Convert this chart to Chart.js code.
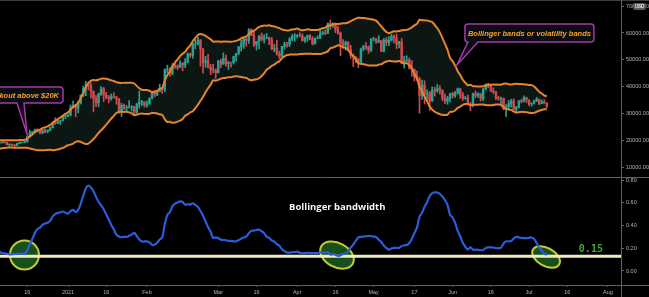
<!DOCTYPE html>
<html><head><meta charset="utf-8">
<script src="https://cdn.jsdelivr.net/npm/chart.js@4.4.1/dist/chart.umd.min.js"></script>
<style>
html,body{margin:0;padding:0;background:#000;overflow:hidden;}
#wrap{position:relative;width:649px;height:297px;background:#000;}
canvas{position:absolute;left:0;}
#top{top:0;}
#bot{top:178px;}
</style></head><body>
<div id="wrap"><canvas id="top" width="649" height="178"></canvas><canvas id="bot" width="649" height="119"></canvas></div>
<script>
// Day index: 0 = 2021-01-01. First candle = 2020-11-15 (day -47), daily BTC/USD candles.
const firstDay = -47;
const closes = [
15960,16730,17660,17800,17820,18680,18710,18420,18360,19160,18720,17150,17140,17720,18180,19700,
18790,19210,19450,18700,19150,19360,19170,18320,18550,18250,18030,18800,19140,19250,19430,21380,22800,23130,23870,23480,22740,23780,23240,23730,24710,26440,26270,27080,27360,28840,29000,
29370,32130,32780,31970,33990,36820,39370,40800,40250,38350,35570,33920,37320,39190,36830,36070,35540,36250,36080,35500,30830,33010,32100,32270,32370,32570,30430,33470,34320,34320,33110,
33540,35510,37470,36930,38140,39270,38900,46200,46480,44920,47910,47500,47100,48720,47940,49170,52150,51680,55890,55890,57410,54090,48890,49680,47260,46320,46160,45240,
49610,48440,50540,48560,48930,48910,51210,52390,54880,55850,57810,57230,61190,59000,55660,56900,58910,57650,58030,58100,57350,54100,54340,52300,51300,55030,55840,55780,57630,58730,58920,
59100,59000,57090,58200,59120,57600,56000,58080,58100,59770,60000,59860,63550,62960,63160,61330,60000,56150,55630,56470,53800,51700,51140,50050,49000,54020,55030,54820,53550,57750,
57800,56580,57170,53200,57440,56400,57360,58800,58230,55860,56700,49150,49700,49880,46760,46430,43540,42900,36700,40620,37300,37530,34700,38700,38400,39290,38530,35660,34620,35680,37340,
36690,37580,39190,36870,35520,35800,33550,33400,37390,36690,37340,35550,39020,40520,40140,38350,38090,35820,35480,35600,31680,32510,33680,34660,31590,32280,34700,34490,35900,35040,
33570,33810,34670,35290,33690,34220,33860,32880
];
const highs = [
16180,16880,17800,18480,18100,18800,18950,18750,18760,19390,19480,18910,17450,17860,18320,19780,
19890,19310,19560,19500,19170,19410,19400,19280,18640,18560,18290,18930,19400,19340,19570,21560,23770,23250,24170,24300,24100,23840,24080,23790,24780,26720,28360,27390,27390,28940,29300,
29600,33160,34610,33440,34440,36880,40170,41950,41380,41340,38350,36630,37600,40000,39700,37900,36720,37300,37790,36400,35550,33810,33460,32930,34800,32900,32560,33730,38410,34890,34290,
34670,35900,37660,38590,38270,40900,39620,46620,48010,47190,48640,48870,48100,49700,49000,50500,52570,52500,56230,57480,58350,57500,54180,51290,52010,48320,48360,46610,
49760,50210,52580,51800,49420,49180,51390,52390,54880,57380,58110,58050,61680,61570,60600,56930,58980,60030,59440,59880,58560,58400,55830,57220,53240,55070,56600,56560,58340,59400,59800,
59470,60110,59700,58480,59250,59450,58680,58100,59000,61200,60700,61200,63770,64860,63800,63520,62500,60400,57510,57000,56800,55400,52100,51170,50560,54370,55460,56400,55200,57960,
58450,57940,58980,57200,57930,58350,58650,59500,59260,59540,56900,57950,51330,51480,50650,49750,46560,45770,43550,42400,42180,38820,38250,39890,39750,40830,40380,38830,37290,36400,37490,
37900,38200,39480,39290,37880,36450,36810,34070,37540,38400,37680,37440,39380,41060,41300,40500,39540,38200,36420,36100,35750,33300,34780,35250,35470,32650,34730,35250,36600,36060,
35040,33950,35000,35950,35290,35050,35050,33900
];
const lows = [
15800,15870,16560,17240,17400,17790,18350,17640,18050,18150,18600,16300,16520,16880,17550,18180,
18330,18580,18920,18620,18580,18930,18900,18240,17650,17940,17590,18000,18760,19000,19050,19300,21240,22370,22780,23070,22350,22380,22700,22760,23460,24520,25920,26210,25900,27210,27980,
28800,29090,32050,28720,30220,33510,36300,36570,38720,35790,30550,32530,32430,36710,34400,35380,33900,34900,35800,33400,30070,28850,31400,30900,31950,30880,29330,30100,31920,32870,32300,
32300,33440,35370,36170,36660,38140,37450,38080,45160,43770,44300,46760,46300,47100,45900,47050,48970,50900,50630,54080,55530,47600,45000,47210,46960,44450,45130,43020,
45040,47090,48280,47580,46380,47260,48430,49470,51860,53290,54270,55010,56120,59000,54880,53650,54150,57010,56340,57830,55650,53750,53000,51700,50460,51280,53960,54690,54900,57000,56870,
58130,58510,57030,56490,56890,57480,55500,55820,57840,57900,59300,59370,59830,61300,62100,60050,59600,51540,54220,53600,53640,50580,47500,48870,47060,48800,53350,53900,52400,53070,
57050,56080,56460,53100,52930,55240,55290,56990,56280,54150,54400,48600,46930,48840,46620,43900,42100,42320,30070,35260,33530,35360,31110,34420,36470,37800,37190,34760,33630,33400,34220,
35700,35980,37190,35600,34800,35270,33370,31000,32400,35800,35940,34600,34760,38760,39530,38120,37420,35150,34840,33380,31300,28800,31700,32400,31330,30180,32020,33900,34270,34050,
32760,32730,33440,34380,33200,33580,33800,32140
];
const tickDays   = [-16, 0, 15, 31, 59, 74, 90, 105, 120, 136, 151, 166, 181, 196, 212];
const tickLabels = ['16','2021','16','Feb','Mar','16','Apr','16','May','17','Jun','16','Jul','16','Aug'];
const priceTicks = [10000, 20000, 30000, 40000, 50000, 60000, 70000];
const bwTicks = [0, 0.2, 0.4, 0.6, 0.8];
const bbPeriod = 20, bbMult = 2;
const threshold = 0.13;
const thresholdLabel = '0.15';
const panelTitle = 'Bollinger bandwidth';

// ---- derived series (Bollinger Bands 20,2 from the closes) ----
const N = closes.length;
const days = closes.map((_, i) => firstDay + i);
const opens = closes.map((c, i) => i > 0 ? closes[i - 1] : c);
const UP = '#28a092', DN = '#cf4a4e';
const candleCol = closes.map((c, i) => c >= opens[i] ? UP : DN);
const bodyData = closes.map((c, i) => ({x: days[i], y: [opens[i], c]}));
const wickData = closes.map((c, i) => ({x: days[i], y: [lows[i], highs[i]]}));
const upper = [], lower = [], bandwidth = [];
for (let i = bbPeriod - 1; i < N; i++) {
  const w = closes.slice(i - bbPeriod + 1, i + 1);
  const m = w.reduce((a, b) => a + b, 0) / bbPeriod;
  const sd = Math.sqrt(w.reduce((a, b) => a + (b - m) * (b - m), 0) / bbPeriod);
  upper.push({x: days[i], y: m + bbMult * sd});
  lower.push({x: days[i], y: m - bbMult * sd});
  bandwidth.push({x: days[i], y: (2 * bbMult * sd) / m});
}

// ---- layout / style config ----
const X_MIN = -26.70, X_MAX = 217.12;
const AXIS_FONT = {family: 'Liberation Sans', size: 5.5};
const AXIS_COL = '#b4b4b4';
const LINE_COL = '#555';
const callouts = [
  {tipDay: 152.7, tipPrice: 48060, text: 'Bollinger bands or volatility bands', align: 'center',
   box: [8, 137, -41, -23], tail: [11, 21]},
  {tipDay: -16.1, tipPrice: 22310, text: 'Breakout above $20K', align: 'right',
   box: [-90, 36, -47, -31], tail: [-10, -3]}
];
const ellipses = [
  {day: -17.1, value: 0.14, rx: 14.5, ry: 14.5, rot: 0},
  {day: 105.6, value: 0.14, rx: 18, ry: 12, rot: 0.5},
  {day: 187.7, value: 0.123, rx: 15, ry: 9, rot: 0.5}
];

function roundRect(ctx, x, y, w, h, r) {
  ctx.moveTo(x + r, y); ctx.lineTo(x + w - r, y); ctx.quadraticCurveTo(x + w, y, x + w, y + r);
  ctx.lineTo(x + w, y + h - r); ctx.quadraticCurveTo(x + w, y + h, x + w - r, y + h);
  ctx.lineTo(x + r, y + h); ctx.quadraticCurveTo(x, y + h, x, y + h - r);
  ctx.lineTo(x, y + r); ctx.quadraticCurveTo(x, y, x + r, y);
}

const topDeco = {
  id: 'topDeco',
  afterDraw(chart) {
    const {ctx, chartArea: ca, scales} = chart;
    ctx.save();
    ctx.strokeStyle = '#3c3c3c'; ctx.lineWidth = 1;
    ctx.beginPath(); ctx.moveTo(0, 0.5); ctx.lineTo(649, 0.5); ctx.stroke();
    ctx.strokeStyle = '#606060';
    ctx.beginPath(); ctx.moveTo(0, ca.bottom + 0.5); ctx.lineTo(649, ca.bottom + 0.5); ctx.stroke();
    ctx.beginPath(); ctx.moveTo(ca.right + 0.5, 0); ctx.lineTo(ca.right + 0.5, ca.bottom); ctx.stroke();
    // USD badge
    ctx.fillStyle = '#5a5a5a';
    ctx.beginPath(); roundRect(ctx, 633, 3, 13, 7, 2); ctx.fill();
    ctx.fillStyle = '#e8e8e8'; ctx.font = 'bold 4.5px "Liberation Sans"';
    ctx.textAlign = 'center'; ctx.textBaseline = 'middle';
    ctx.fillText('USD', 639.5, 6.8);
    // callouts
    callouts.forEach(c => {
      const tx = scales.x.getPixelForValue(c.tipDay), ty = scales.y.getPixelForValue(c.tipPrice);
      const x1 = tx + c.box[0], x2 = tx + c.box[1], y1 = ty + c.box[2], y2 = ty + c.box[3];
      const a = tx + c.tail[0], b = tx + c.tail[1], r = 3;
      ctx.beginPath();
      ctx.moveTo(x1 + r, y1); ctx.lineTo(x2 - r, y1); ctx.quadraticCurveTo(x2, y1, x2, y1 + r);
      ctx.lineTo(x2, y2 - r); ctx.quadraticCurveTo(x2, y2, x2 - r, y2);
      ctx.lineTo(b, y2); ctx.lineTo(tx, ty); ctx.lineTo(a, y2);
      ctx.lineTo(x1 + r, y2); ctx.quadraticCurveTo(x1, y2, x1, y2 - r);
      ctx.lineTo(x1, y1 + r); ctx.quadraticCurveTo(x1, y1, x1 + r, y1);
      ctx.closePath();
      ctx.fillStyle = '#0c0c12'; ctx.fill();
      ctx.strokeStyle = '#a23ba6'; ctx.lineWidth = 1.5; ctx.stroke();
      ctx.fillStyle = '#f2a22e'; ctx.font = 'bold italic 7.5px "Liberation Sans"';
      ctx.textBaseline = 'middle';
      if (c.align === 'center') { ctx.textAlign = 'center'; ctx.fillText(c.text, (x1 + x2) / 2, (y1 + y2) / 2 + 0.5); }
      else { ctx.textAlign = 'right'; ctx.fillText(c.text, x2 - 4, (y1 + y2) / 2 + 0.5); }
    });
    ctx.restore();
  }
};

const botDeco = {
  id: 'botDeco',
  beforeDatasetsDraw(chart) {
    const {ctx, chartArea: ca, scales} = chart;
    ctx.save();
    ellipses.forEach(e => {
      const cx = scales.x.getPixelForValue(e.day), cy = scales.y.getPixelForValue(e.value);
      ctx.beginPath(); ctx.ellipse(cx, cy, e.rx, e.ry, e.rot, 0, Math.PI * 2);
      ctx.fillStyle = '#17501b'; ctx.fill();
      ctx.strokeStyle = '#c6c93a'; ctx.lineWidth = 2; ctx.stroke();
    });
    const ty = scales.y.getPixelForValue(threshold);
    ctx.strokeStyle = '#f2ebc0'; ctx.lineWidth = 3;
    ctx.beginPath(); ctx.moveTo(ca.left, ty); ctx.lineTo(ca.right, ty); ctx.stroke();
    ctx.restore();
  },
  afterDraw(chart) {
    const {ctx, chartArea: ca, scales} = chart;
    ctx.save();
    ctx.fillStyle = '#f4f4f4'; ctx.font = 'bold 9.5px "Open Sans"';
    ctx.textAlign = 'left'; ctx.textBaseline = 'middle';
    ctx.fillText(panelTitle, scales.x.getPixelForValue(86.8), scales.y.getPixelForValue(0.563));
    ctx.fillStyle = '#48a044'; ctx.font = 'bold 10px "DejaVu Sans Mono"';
    ctx.textAlign = 'center';
    ctx.fillText(thresholdLabel, scales.x.getPixelForValue(205.3), scales.y.getPixelForValue(0.193));
    ctx.strokeStyle = '#606060'; ctx.lineWidth = 1;
    ctx.beginPath(); ctx.moveTo(0, ca.bottom + 0.5); ctx.lineTo(649, ca.bottom + 0.5); ctx.stroke();
    ctx.beginPath(); ctx.moveTo(ca.right + 0.5, 0); ctx.lineTo(ca.right + 0.5, 119); ctx.stroke();
    ctx.restore();
  }
};

const yAxisCommon = (min, max, list) => ({
  position: 'right', min, max,
  afterBuildTicks: s => { s.ticks = list.map(v => ({value: v})); },
  afterFit: s => { s.width = 28; s.paddingTop = 0; s.paddingBottom = 0; },
  ticks: {autoSkip: false, callback: v => Number(v).toFixed(2), color: AXIS_COL, font: AXIS_FONT, padding: 2},
  grid: {drawOnChartArea: false, drawTicks: true, tickLength: 3, color: '#666'},
  border: {display: true, color: LINE_COL}
});

new Chart(document.getElementById('top'), {
  type: 'bar',
  data: {datasets: [
    {type: 'line', data: upper, borderColor: '#e8842c', borderWidth: 2, pointRadius: 0, tension: 0.3,
     fill: '+1', backgroundColor: '#0c1714', order: 0},
    {type: 'line', data: lower, borderColor: '#e8842c', borderWidth: 2, pointRadius: 0, tension: 0.3,
     fill: false, order: 0},
    {data: wickData, backgroundColor: candleCol, barThickness: 1, grouped: false, order: 2},
    {data: bodyData, backgroundColor: candleCol, barThickness: 1.8, grouped: false, order: 1}
  ]},
  options: {
    responsive: false, animation: false, devicePixelRatio: 1,
    layout: {padding: {top: 2, bottom: 1, left: 0, right: 0}},
    plugins: {legend: {display: false}, tooltip: {enabled: false}, filler: {drawTime: 'beforeDatasetsDraw'}},
    scales: {
      x: {type: 'linear', min: X_MIN, max: X_MAX, display: false, offset: false, grid: {offset: false}},
      y: yAxisCommon(6269, 71567, priceTicks)
    }
  },
  plugins: [topDeco]
});

new Chart(document.getElementById('bot'), {
  type: 'line',
  data: {datasets: [
    {data: bandwidth, borderColor: '#2d5cd8', borderWidth: 2.2, pointRadius: 0, tension: 0.35, fill: false}
  ]},
  options: {
    responsive: false, animation: false, devicePixelRatio: 1,
    layout: {padding: {top: 0, bottom: 0, left: 0, right: 0}},
    plugins: {legend: {display: false}, tooltip: {enabled: false}},
    scales: {
      x: {type: 'linear', min: X_MIN, max: X_MAX, offset: false,
          afterBuildTicks: s => { s.ticks = tickDays.map(v => ({value: v})); },
          afterFit: s => { s.height = 12; s.paddingLeft = 0; s.paddingRight = 0; },
          ticks: {autoSkip: false, maxRotation: 0, minRotation: 0, color: AXIS_COL, font: AXIS_FONT, padding: 2,
                  callback: function (v) { const k = tickDays.indexOf(Number(v)); return k >= 0 ? tickLabels[k] : ''; }},
          grid: {display: true, drawOnChartArea: false, drawTicks: true, tickLength: 2, color: '#555'},
          border: {display: false}},
      y: yAxisCommon(-0.1231, 0.8176, bwTicks)
    }
  },
  plugins: [botDeco]
});
</script>
</body></html>
